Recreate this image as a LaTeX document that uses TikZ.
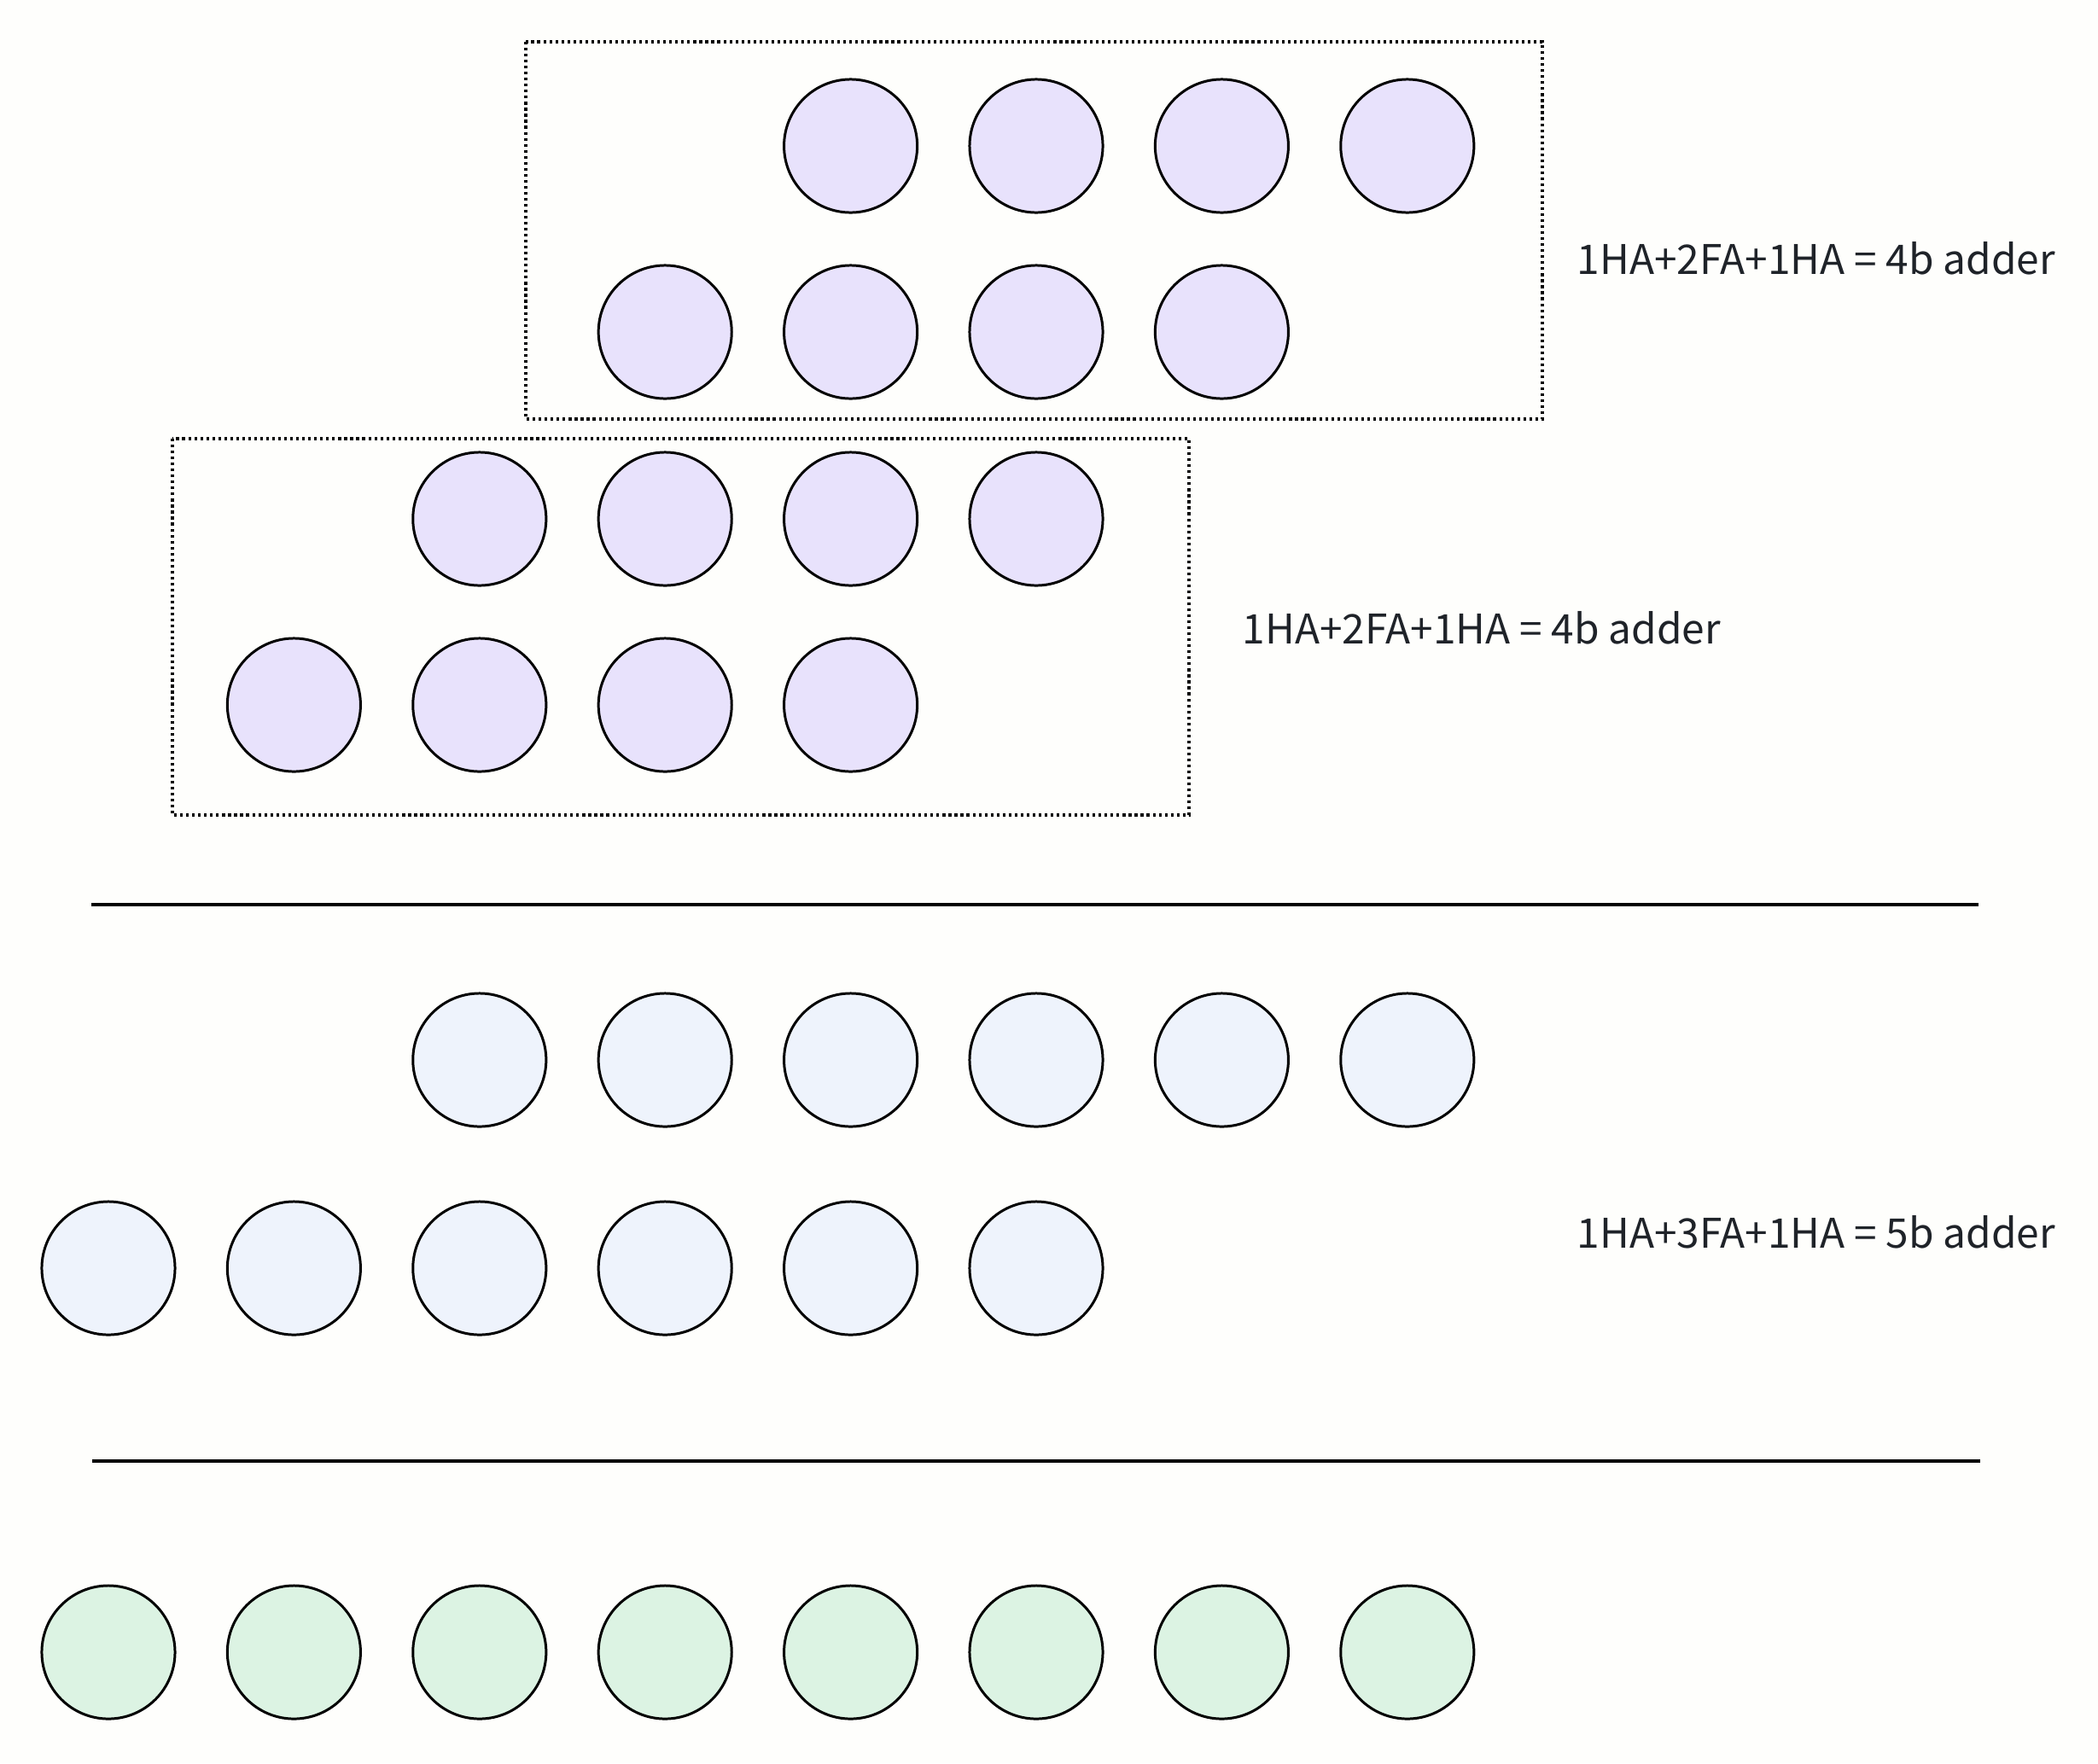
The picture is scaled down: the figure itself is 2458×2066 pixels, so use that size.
\documentclass[tikz,border=0pt]{standalone}
\usepackage{fontspec}
\newfontfamily\notefont{Noto Sans CJK SC}
\usepackage{xcolor}
\usepackage{tikz}
\usetikzlibrary{positioning}

\definecolor{bitpurple}{HTML}{E8E2FC}
\definecolor{bitblue}{HTML}{EEF3FC}
\definecolor{bitgreen}{HTML}{DCF3E3}
\definecolor{notegray}{HTML}{1F2329}
\definecolor{pagebg}{HTML}{FEFEFC}

\tikzset{
  bit/.style={draw, circle, line width=0.85pt, minimum size=1.56cm, inner sep=0pt},
  grpbox/.style={line width=1pt, dash pattern=on 0.9pt off 1.1pt},
  sepline/.style={line width=0.95pt},
  note/.style={font=\notefont\fontsize{13.6}{16}\selectfont, text=notegray, inner sep=0pt, anchor=base west}
}

\begin{document}
\begin{tikzpicture}[x=0.01cm, y=-0.01cm]
        \fill[pagebg] (0,0) rectangle (2458,2066);
        \useasboundingbox (0,0) rectangle (2458,2066);

        % first 4b adder
        \draw[grpbox] (616,49) rectangle (1807,491);
        \foreach \i in {1,...,4} {
            \node[bit, fill=bitpurple] (pa\i) at ({996.6+(\i-1)*217.4},171) {};
            \node[bit, fill=bitpurple] (pb\i) at ({779.2+(\i-1)*217.4},389) {};
        }
        \node[note] (n1) at (1847,321) {1HA+2FA+1HA = 4b adder};

        % second 4b adder
        \draw[grpbox] (202,514) rectangle (1393,955);
        \foreach \i in {1,...,4} {
            \node[bit, fill=bitpurple] (qa\i) at ({561.8+(\i-1)*217.4},608) {};
            \node[bit, fill=bitpurple] (qb\i) at ({344.4+(\i-1)*217.4},826) {};
        }
        \node[note] (n2) at (1455,754) {1HA+2FA+1HA = 4b adder};

        \coordinate (s1l) at (107,1060);
        \coordinate (s1r) at (2318,1060);
        \draw[sepline] (s1l) -- (s1r);

        % 5b adder
        \foreach \i in {1,...,6} {
            \node[bit, fill=bitblue] (ra\i) at ({561.8+(\i-1)*217.4},1242) {};
            \node[bit, fill=bitblue] (rb\i) at ({127+(\i-1)*217.4},1486) {};
        }
        \node[note] (n3) at (1847,1462) {1HA+3FA+1HA = 5b adder};

        \coordinate (s2l) at (108,1712);
        \coordinate (s2r) at (2320,1712);
        \draw[sepline] (s2l) -- (s2r);

        % sum bits
        \foreach \i in {1,...,8} {
            \node[bit, fill=bitgreen] (s\i) at ({127+(\i-1)*217.4},1936) {};
        }
\end{tikzpicture}
\end{document}
